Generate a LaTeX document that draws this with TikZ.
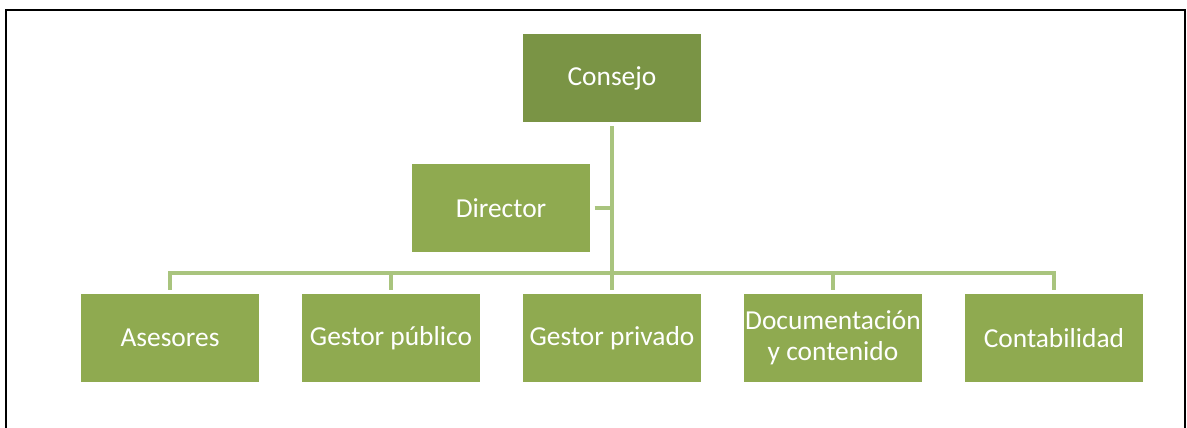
\documentclass[tikz,border=0pt]{standalone}
\usepackage{fontspec}
\setmainfont{Carlito}
\definecolor{olivedark}{RGB}{122,148,69}
\definecolor{olivebox}{RGB}{143,170,80}
\definecolor{olivelink}{RGB}{169,196,126}

\begin{document}
\begin{tikzpicture}[x=0.02cm, y=0.02cm,
unit/.style = {rectangle, fill=olivebox, text=white, align=center, minimum width=3.56cm, minimum height=1.76cm, inner sep=0pt, font=\fontsize{15.6}{17.5}\selectfont},
link/.style = {draw=olivelink, line width=2.3pt}]

\useasboundingbox (0,0) rectangle (1187,428);
\draw [line width=1.1pt] (6,0) -- (6,418) -- (1185,418) -- (1185,0);

\node [unit, fill=olivedark] (consejo) at (612,350) {Consejo};
\node [unit] (director) at (501,220) {Director};
\node [unit] (asesores) at (170,90) {Asesores};
\node [unit] (gpublico) at (391,90) {Gestor público};
\node [unit] (gprivado) at (612,90) {Gestor privado};
\node [unit] (documenta) at (833,90) {Documentación\\y contenido};
\node [unit] (contab) at (1054,90) {Contabilidad};
\coordinate (bus) at (612,155);

\draw [link, shorten <=2.3pt] (consejo.south) -- (consejo.south |- bus);
\draw [link, shorten <=2.5pt] (director.east) -- (director.east -| consejo.south);
\draw [link, shorten <=2.3pt, shorten >=2.3pt] (asesores.north) |- (bus) -| (contab.north);
\draw [link, shorten <=2.3pt] (gpublico.north) -- (gpublico.north |- bus);
\draw [link, shorten <=2.3pt] (gprivado.north) -- (gprivado.north |- bus);
\draw [link, shorten <=2.3pt] (documenta.north) -- (documenta.north |- bus);
\end{tikzpicture}
\end{document}
